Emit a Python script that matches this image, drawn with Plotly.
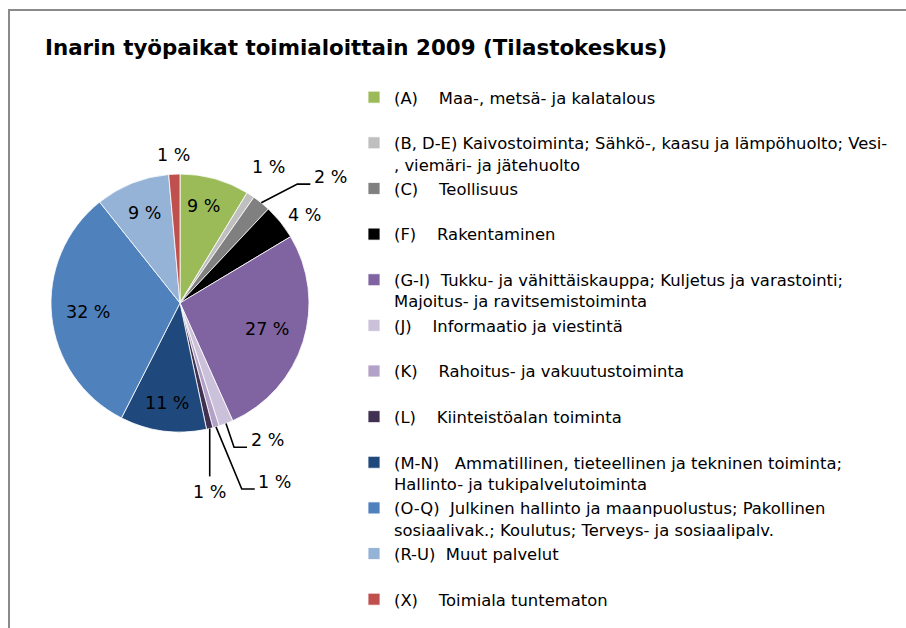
import math
import plotly.graph_objects as go

W, H = 906, 628

title_text = "Inarin työpaikat toimialoittain 2009 (Tilastokeskus)"

NB = "\u00a0"
categories = [
    "(A)" + NB * 4 + "Maa-, metsä- ja kalatalous",
    "(B, D-E) Kaivostoiminta; Sähkö-, kaasu ja lämpöhuolto; Vesi-<br>, viemäri- ja jätehuolto",
    "(C)" + NB * 4 + "Teollisuus",
    "(F)" + NB * 4 + "Rakentaminen",
    "(G-I)" + NB * 2 + "Tukku- ja vähittäiskauppa; Kuljetus ja varastointi;<br>Majoitus- ja ravitsemistoiminta",
    "(J)" + NB * 4 + "Informaatio ja viestintä",
    "(K)" + NB * 4 + "Rahoitus- ja vakuutustoiminta",
    "(L)" + NB * 4 + "Kiinteistöalan toiminta",
    "(M-N)" + NB * 3 + "Ammatillinen, tieteellinen ja tekninen toiminta;<br>Hallinto- ja tukipalvelutoiminta",
    "(O-Q)" + NB * 2 + "Julkinen hallinto ja maanpuolustus; Pakollinen<br>sosiaalivak.; Koulutus; Terveys- ja sosiaalipalv.",
    "(R-U)" + NB * 2 + "Muut palvelut",
    "(X)" + NB * 4 + "Toimiala tuntematon",
]

# share of jobs, percent
values = [8.7, 1.0, 2.3, 4.4, 26.9, 1.8, 0.8, 0.8, 10.8, 31.8, 9.3, 1.4]

colors = ["#9BBB59", "#BFBFBF", "#808080", "#000000", "#8064A2", "#CCC1DA",
          "#B3A2C7", "#403152", "#1F497D", "#4F81BD", "#95B3D7", "#C0504D"]

# label placement style per slice: (mode, radius factor, angle offset deg)
label_style = [
    ("in", 0.77, -2), ("out", 1.26, 0), ("elbow", 1.52, 11), ("out", 1.18, 3.5),
    ("in", 0.70, -1), ("elbow", 1.26, -11.5), ("elbow", 1.57, -11.7), ("drop", 1.49, 3.5),
    ("in", 0.78, 0), ("in", 0.72, 0), ("in", 0.75, 0), ("out", 1.15, 0),
]

FONT = "DejaVu Sans"

# pie geometry in pixels
CX, CY, R = 180, 303, 129


def px(x):
    return x / W


def py(y):
    return 1 - y / H


legend_names = [c if ("<br>" in c or i == len(categories) - 1) else c + "<br>" + NB
                for i, c in enumerate(categories)]

fig = go.Figure()
fig.add_trace(go.Pie(
    labels=legend_names,
    values=values,
    sort=False,
    direction="clockwise",
    rotation=0,
    marker=dict(colors=colors, line=dict(color="white", width=0.8)),
    textinfo="none",
    domain=dict(x=[px(CX - R), px(CX + R)], y=[py(CY + R), py(CY - R)]),
    showlegend=True,
))

total = sum(values)
annotations = []
shapes = []
cum = 0.0
for v, (mode, rf, dang) in zip(values, label_style):
    mid = (cum + v / 2) / total * 360.0
    cum += v
    pct = f"{round(v / total * 100):d} %"
    a = math.radians(mid + dang)
    tx = CX + R * rf * math.sin(a)
    ty = CY - R * rf * math.cos(a)
    am = math.radians(mid)
    ex = CX + R * math.sin(am)
    ey = CY - R * math.cos(am)
    if mode == "elbow":
        ly = ty + 7
        x_end = tx - 20
        x_elb = x_end - 13
        shapes.append(dict(type="path", xref="paper", yref="paper",
                           path=f"M{px(ex)},{py(ey)} L{px(x_elb)},{py(ly)} L{px(x_end)},{py(ly)}",
                           line=dict(color="black", width=1.6)))
    elif mode == "drop":
        tx = ex
        shapes.append(dict(type="path", xref="paper", yref="paper",
                           path=f"M{px(ex)},{py(ey)} L{px(ex)},{py(ty - 16)}",
                           line=dict(color="black", width=1.6)))
    annotations.append(dict(x=px(tx), y=py(ty), xref="paper", yref="paper",
                            text=pct, showarrow=False, xanchor="center", yanchor="middle",
                            font=dict(family=FONT, size=17.5, color="black")))

# chart frame
shapes.append(dict(type="rect", xref="paper", yref="paper",
                   x0=px(9), y0=py(H + 20), x1=px(W + 20), y1=py(10),
                   line=dict(color="#8A8A8A", width=2), fillcolor="rgba(0,0,0,0)", layer="below"))

fig.update_layout(
    width=W, height=H,
    margin=dict(l=0, r=0, t=0, b=0),
    paper_bgcolor="white",
    plot_bgcolor="white",
    title=dict(text=f"<b>{title_text}</b>", x=px(45), xanchor="left",
               y=py(48), yanchor="middle",
               font=dict(family=FONT, size=21.4, color="black")),
    legend=dict(x=px(354), xanchor="left", y=py(80), yanchor="top",
                valign="top", traceorder="normal",
                font=dict(family=FONT, size=16.4, color="black"),
                bgcolor="rgba(0,0,0,0)", borderwidth=0, itemclick=False),
    annotations=annotations,
    shapes=shapes,
)

fig.write_html("out.html", config={"displayModeBar": False},
               post_script="document.body.style.margin='0';")
